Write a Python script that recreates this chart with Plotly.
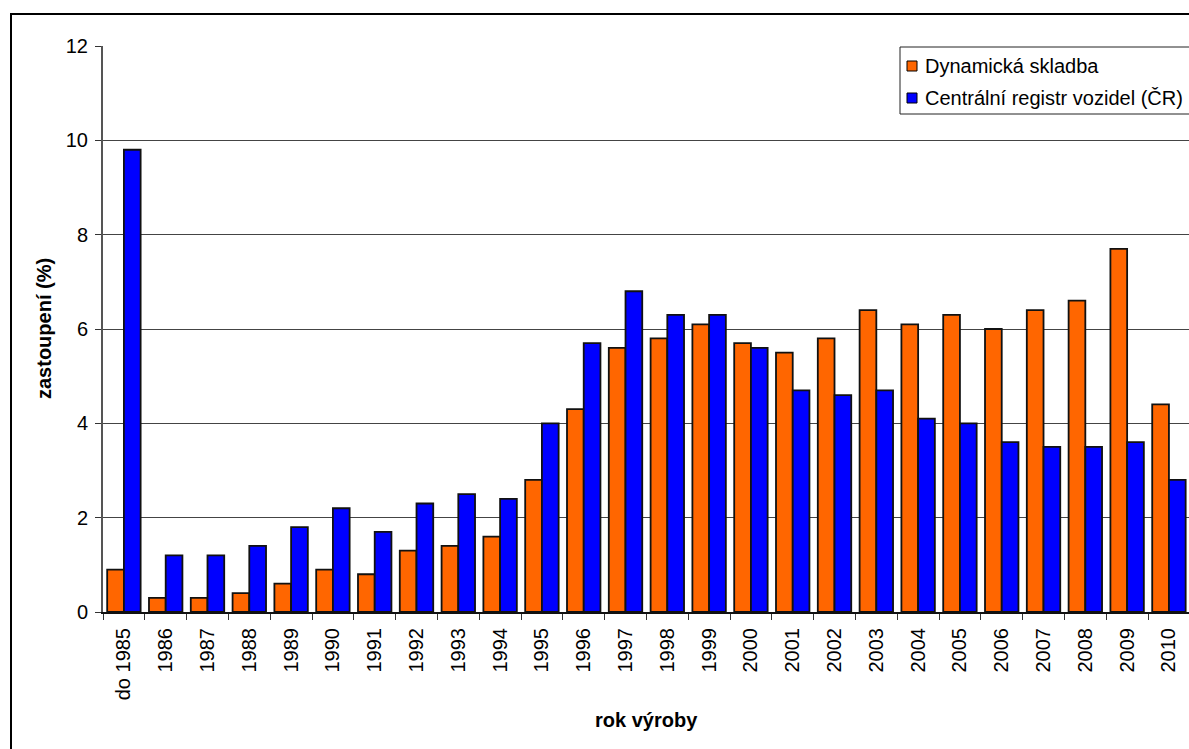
import plotly.graph_objects as go

# Vehicle age structure: share of vehicles by year of manufacture
roky = ["do 1985", "1986", "1987", "1988", "1989", "1990", "1991", "1992", "1993",
        "1994", "1995", "1996", "1997", "1998", "1999", "2000", "2001", "2002",
        "2003", "2004", "2005", "2006", "2007", "2008", "2009", "2010"]

dynamicka_skladba = [0.9, 0.3, 0.3, 0.4, 0.6, 0.9, 0.8, 1.3, 1.4, 1.6, 2.8, 4.3, 5.6,
                     5.8, 6.1, 5.7, 5.5, 5.8, 6.4, 6.1, 6.3, 6.0, 6.4, 6.6, 7.7, 4.4]

centralni_registr = [9.8, 1.2, 1.2, 1.4, 1.8, 2.2, 1.7, 2.3, 2.5, 2.4, 4.0, 5.7, 6.8,
                     6.3, 6.3, 5.6, 4.7, 4.6, 4.7, 4.1, 4.0, 3.6, 3.5, 3.5, 3.6, 2.8]

y_ticks = [0, 2, 4, 6, 8, 10, 12]

nazvy = ["Dynamická skladba", "Centrální registr vozidel (ČR)"]
barvy = ["#FF6600", "#0000FF"]

W, H = 1189, 749
ML, MR, MT, MB = 103, 0, 46, 137
PW, PH = W - ML - MR, H - MT - MB
FONT = "Liberation Sans, Arial, sans-serif"


def px_x(px):
    return (px - ML) / PW


def px_y(py):
    return (H - MB - py) / PH


fig = go.Figure()
for nazev, hodnoty, barva in zip(nazvy, [dynamicka_skladba, centralni_registr], barvy):
    fig.add_trace(go.Bar(
        x=roky, y=hodnoty, name=nazev,
        marker=dict(color=barva, line=dict(color="#111111", width=1.8)),
        showlegend=False,
    ))

shapes = [
    # outer chart frame
    dict(type="rect", xref="paper", yref="paper",
         x0=px_x(11), x1=px_x(1400), y0=px_y(14), y1=px_y(900),
         line=dict(color="black", width=2), layer="above"),
    # legend box
    dict(type="rect", xref="paper", yref="paper",
         x0=px_x(900), x1=px_x(1300), y0=px_y(47), y1=px_y(114),
         line=dict(color="#222222", width=1), fillcolor="white", layer="above"),
]
annotations = []
radky_y = [66, 98]
for nazev, barva, ry in zip(nazvy, barvy, radky_y):
    shapes.append(dict(type="rect", xref="paper", yref="paper",
                       x0=px_x(907), x1=px_x(917), y0=px_y(ry - 5), y1=px_y(ry + 5),
                       fillcolor=barva, line=dict(color="black", width=1), layer="above"))
    annotations.append(dict(xref="paper", yref="paper", x=px_x(923), y=px_y(ry),
                            text=nazev, showarrow=False, xanchor="left", yanchor="middle",
                            font=dict(family=FONT, size=20, color="black")))

annotations.append(dict(xref="paper", yref="paper", x=0.5, y=px_y(720),
                        text="<b>rok výroby</b>", showarrow=False,
                        xanchor="center", yanchor="middle",
                        font=dict(family=FONT, size=20, color="black")))
annotations.append(dict(xref="paper", yref="paper", x=px_x(44), y=0.5,
                        text="<b>zastoupení (%)</b>", showarrow=False, textangle=-90,
                        xanchor="center", yanchor="middle",
                        font=dict(family=FONT, size=20, color="black")))

fig.update_layout(
    width=W, height=H,
    margin=dict(l=ML, r=MR, t=MT, b=MB, pad=0),
    paper_bgcolor="white", plot_bgcolor="white",
    barmode="group", bargap=0.2, bargroupgap=0,
    font=dict(family=FONT, size=20, color="black"),
    shapes=shapes, annotations=annotations,
    showlegend=False,
)
fig.update_xaxes(
    type="category", range=[-0.5, 25.48],
    tickson="boundaries", ticks="outside", ticklen=6, tickwidth=1, tickcolor="#333333",
    tickangle=-90, tickfont=dict(family=FONT, size=20, color="black"),
    ticklabelstandoff=6,
    showline=True, linecolor="#111111", linewidth=2,
    showgrid=False, zeroline=False,
)
fig.update_yaxes(
    range=[0, 12], tickvals=y_ticks,
    ticks="outside", ticklen=6, tickwidth=1, tickcolor="#333333",
    tickfont=dict(family=FONT, size=20, color="black"),
    ticklabelstandoff=3,
    showline=True, linecolor="#555555", linewidth=2,
    showgrid=True, gridcolor="#444444", gridwidth=1,
    zeroline=False,
)

fig.write_html("out.html")
